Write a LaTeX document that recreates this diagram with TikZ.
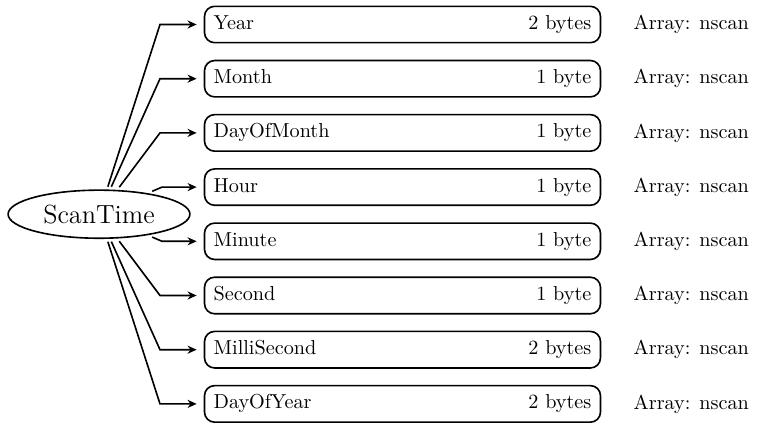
\documentclass[tikz,border=0pt]{standalone}
\usetikzlibrary{shapes.geometric,arrows.meta,positioning}

\tikzset{
  fieldbox/.style={draw, thick, rounded corners=5pt, text width=187pt, inner sep=4.5pt,
    minimum height=17.3pt, align=left},
  arrayinfo/.style={inner sep=3.33pt},
  link/.style={thick, -{Stealth[length=4.5pt,width=4pt]}, shorten >=3.5pt}
}

\begin{document}
\begin{tikzpicture}[x=0.495pt,y=0.495pt,yscale=-1,xscale=1]
        \useasboundingbox (0,0) rectangle (760,424);

        % Ellipse
        \node [ellipse, draw, thick, minimum width=90pt, minimum height=23.8pt, inner sep=0pt,
          outer sep=1.8pt, font=\fontsize{13}{15.6}\selectfont] (scantime) at (99,214.2) {ScanTime};

        % Fields
        \node [fieldbox] (year) at (402.5,24.5) {Year\hfill 2 bytes};
        \node [fieldbox] (month) at (402.5,78.7) {Month\hfill 1 byte};
        \node [fieldbox] (dayofmonth) at (402.5,132.9) {DayOfMonth\hfill 1 byte};
        \node [fieldbox] (hour) at (402.5,187.1) {Hour\hfill 1 byte};
        \node [fieldbox] (minute) at (402.5,241.3) {Minute\hfill 1 byte};
        \node [fieldbox] (second) at (402.5,295.5) {Second\hfill 1 byte};
        \node [fieldbox] (millisecond) at (402.5,349.7) {MilliSecond\hfill 2 bytes};
        \node [fieldbox] (dayofyear) at (402.5,403.9) {DayOfYear\hfill 2 bytes};

        % Text Node
        \node [arrayinfo, right=12.5pt of year] (yeararr) {Array: nscan};
        \node [arrayinfo, right=12.5pt of month] (montharr) {Array: nscan};
        \node [arrayinfo, right=12.5pt of dayofmonth] (dayofmontharr) {Array: nscan};
        \node [arrayinfo, right=12.5pt of hour] (hourarr) {Array: nscan};
        \node [arrayinfo, right=12.5pt of minute] (minutearr) {Array: nscan};
        \node [arrayinfo, right=12.5pt of second] (secondarr) {Array: nscan};
        \node [arrayinfo, right=12.5pt of millisecond] (millisecondarr) {Array: nscan};
        \node [arrayinfo, right=12.5pt of dayofyear] (dayofyeararr) {Array: nscan};

        % Corners
        \coordinate (cyear) at (160,24.5);
        \coordinate (cmonth) at (160,78.7);
        \coordinate (cdayofmonth) at (160,132.9);
        \coordinate (chour) at (162,187.1);
        \coordinate (cminute) at (162,241.3);
        \coordinate (csecond) at (160,295.5);
        \coordinate (cmillisecond) at (160,349.7);
        \coordinate (cdayofyear) at (160,403.9);

        % Links
        \draw [link] (scantime) -- (cyear) -- (year);
        \draw [link] (scantime) -- (cmonth) -- (month);
        \draw [link] (scantime) -- (cdayofmonth) -- (dayofmonth);
        \draw [link] (scantime) -- (chour) -- (hour);
        \draw [link] (scantime) -- (cminute) -- (minute);
        \draw [link] (scantime) -- (csecond) -- (second);
        \draw [link] (scantime) -- (cmillisecond) -- (millisecond);
        \draw [link] (scantime) -- (cdayofyear) -- (dayofyear);

\end{tikzpicture}
\end{document}
